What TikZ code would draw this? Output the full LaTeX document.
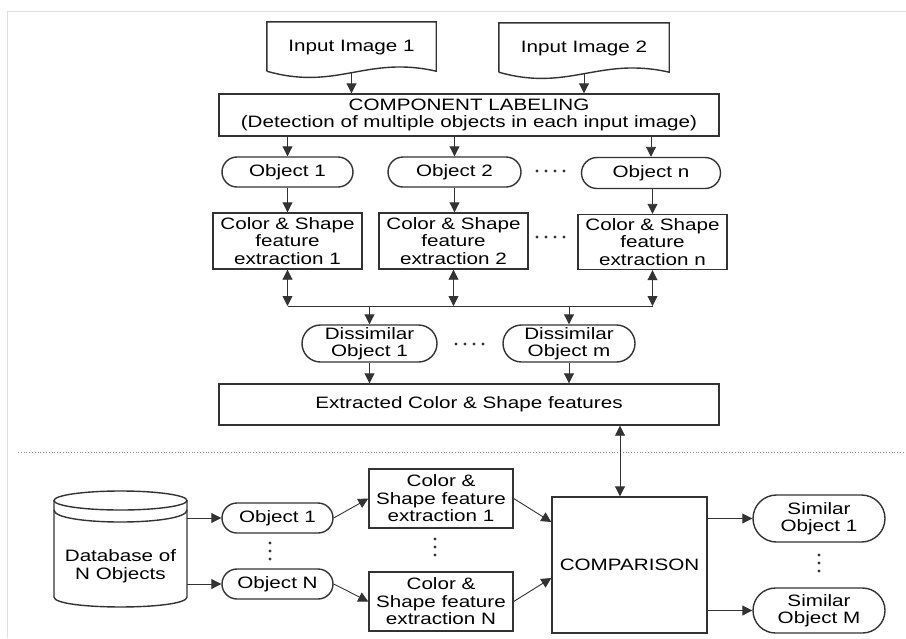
\documentclass[tikz,border=0pt]{standalone}
\usepackage{fontspec}
\setmainfont{Liberation Sans}[FakeStretch=1.25]
\usetikzlibrary{arrows.meta,shapes.misc,positioning}
\tikzstyle{arrow} = [line width=0.9pt, draw=black!80, -{Triangle[width=10pt,length=10pt]}]
\tikzstyle{twoway} = [line width=0.9pt, draw=black!80, {Triangle[width=10pt,length=10pt]}-{Triangle[width=10pt,length=10pt]}]
\tikzstyle{wire} = [line width=0.9pt, draw=black!80]
\tikzstyle{outline} = [line width=1.4pt, draw=black!80]
\tikzstyle{box} = [outline, rectangle, inner sep=0pt, align=center, font=\fontsize{16.5}{17.5}\selectfont]
\tikzstyle{obj} = [box, rounded rectangle]
\tikzstyle{plain} = [inner sep=0pt, font=\fontsize{16.5}{17.5}\selectfont]
\tikzstyle{dot} = [fill=black!80]

\begin{document}
\begin{tikzpicture}[x=1pt,y=-1pt]
\useasboundingbox (0,0) rectangle (906,638);
\draw[black!12, line width=0.8pt] (7,638) -- (7,11) -- (906,11);

% input images
\node[plain, minimum width=169pt, minimum height=49pt] (img1) at (351.5,47.5) {Input Image 1};
\node[plain, minimum width=170pt, minimum height=49pt] (img2) at (584,48.5) {Input Image 2};
\foreach \i in {img1,img2}
  \draw[outline] ([yshift=1pt]\i.south west) -- ([yshift=1pt]\i.north west) -- ([yshift=1pt]\i.north east) -- ([yshift=1pt]\i.south east)
    .. controls +(-70,-16) and +(70,20) .. ([yshift=1pt]\i.south west);

\node[box, minimum width=500pt, minimum height=42pt] (comp) at (469,115)
  {COMPONENT LABELING\\(Detection of multiple objects in each input image)};
\draw[arrow] (img1.south) -- (img1.south |- comp.north);
\draw[arrow] (img2.south) -- (img2.south |- comp.north);

% objects of the input images
\node[obj, minimum width=131pt, minimum height=30pt] (obj1) at (287.5,172) {Object 1};
\node[obj, minimum width=133pt, minimum height=30pt] (obj2) at (454.5,172) {Object 2};
\node[obj, minimum width=139pt, minimum height=31pt] (objn) at (651,173) {Object n};
\foreach \x in {537,546,555,564} \fill[dot] (\x,171) circle (1.7);
\foreach \o in {obj1,obj2,objn}
  \draw[arrow] (comp.south -| \o) -- (\o.north);

\node[box, minimum width=149pt, minimum height=56pt] (feat1) at (287.5,241) {Color \& Shape\\feature\\extraction 1};
\node[box, minimum width=149pt, minimum height=56pt] (feat2) at (453.5,241) {Color \& Shape\\feature\\extraction 2};
\node[box, minimum width=149pt, minimum height=55pt] (featn) at (652.5,242) {Color \& Shape\\feature\\extraction n};
\foreach \x in {537,546,555,564} \fill[dot] (\x,237) circle (1.7);
\draw[arrow] (obj1.south) -- (obj1.south |- feat1.north);
\draw[arrow] (obj2.south) -- (obj2.south |- feat2.north);
\draw[arrow] (objn.south -| featn) -- (featn.north);

\foreach \f in {feat1,feat2,featn}
  \draw[twoway] (\f.south) -- (\f.south |- 0,306);
\draw[wire] (feat1.south |- 0,306) -- (featn.south |- 0,306);

\node[obj, minimum width=135pt, minimum height=37pt] (dis1) at (369.5,343.5) {Dissimilar\\Object 1};
\node[obj, minimum width=132pt, minimum height=37pt] (dism) at (569,343.5) {Dissimilar\\Object m};
\foreach \x in {456,465,474,483} \fill[dot] (\x,344) circle (1.7);
\draw[arrow] (dis1.north |- 0,306) -- (dis1.north);
\draw[arrow] (dism.north |- 0,306) -- (dism.north);

\node[box, minimum width=500pt, minimum height=41pt] (ext) at (469,404.5) {Extracted Color \& Shape features};
\draw[arrow] (dis1.south) -- (dis1.south |- ext.north);
\draw[arrow] (dism.south) -- (dism.south |- ext.north);

\draw[black!45, dotted, line width=0.8pt] (18,452) -- (906,452);

% database side
\node[plain, minimum width=133pt, align=center] (db) at (120.5,566) {Database of\\N Objects};
\draw[outline] (120.5,500.5) ellipse[x radius=66.5, y radius=9.5];
\draw[outline] (54,510) .. controls (54,526) and (187,526) .. (187,510);
\draw[outline] (54,500.5) -- (54,597) .. controls (54,610.3) and (187,610.3) .. (187,597) -- (187,500.5);

\node[obj, minimum width=111pt, minimum height=30pt] (bo1) at (277.5,518) {Object 1};
\node[obj, minimum width=111pt, minimum height=30pt] (boN) at (277.5,584) {Object N};
\foreach \y in {543,551,559} \fill[dot] (270,\y) circle (1.7);
\draw[arrow] (db.east |- bo1) -- (bo1.west);
\draw[arrow] (db.east |- boN) -- (boN.west);

\node[box, minimum width=144pt, minimum height=59pt] (bf1) at (441,498.5) {Color \&\\Shape feature\\extraction 1};
\node[box, minimum width=144pt, minimum height=59pt] (bfN) at (441,601.5) {Color \&\\Shape feature\\extraction N};
\foreach \y in {539,547,555} \fill[dot] (435,\y) circle (1.7);
\draw[arrow] (bo1.east) -- (bf1.west);
\draw[arrow] (boN.east) -- (bfN.west);

\node[box, minimum width=155pt, minimum height=136pt] (cmp) at (629.5,565) {COMPARISON};
\draw[twoway] (ext.south -| 620,0) -- (cmp.north -| 620,0);
\draw[arrow] (bf1.east) -- ([yshift=43pt]cmp.west);
\draw[arrow] (bfN.east) -- ([yshift=-13pt]cmp.west);

\node[obj, minimum width=132pt, minimum height=47pt] (sim1) at (819,518.5) {Similar\\Object 1};
\node[obj, minimum width=132pt, minimum height=45pt] (simM) at (819,610.5) {Similar\\Object M};
\foreach \y in {555,563,571} \fill[dot] (819,\y) circle (1.7);
\draw[arrow] (cmp.east |- sim1) -- (sim1.west);
\draw[arrow] (cmp.east |- simM) -- (simM.west);
\end{tikzpicture}
\end{document}
